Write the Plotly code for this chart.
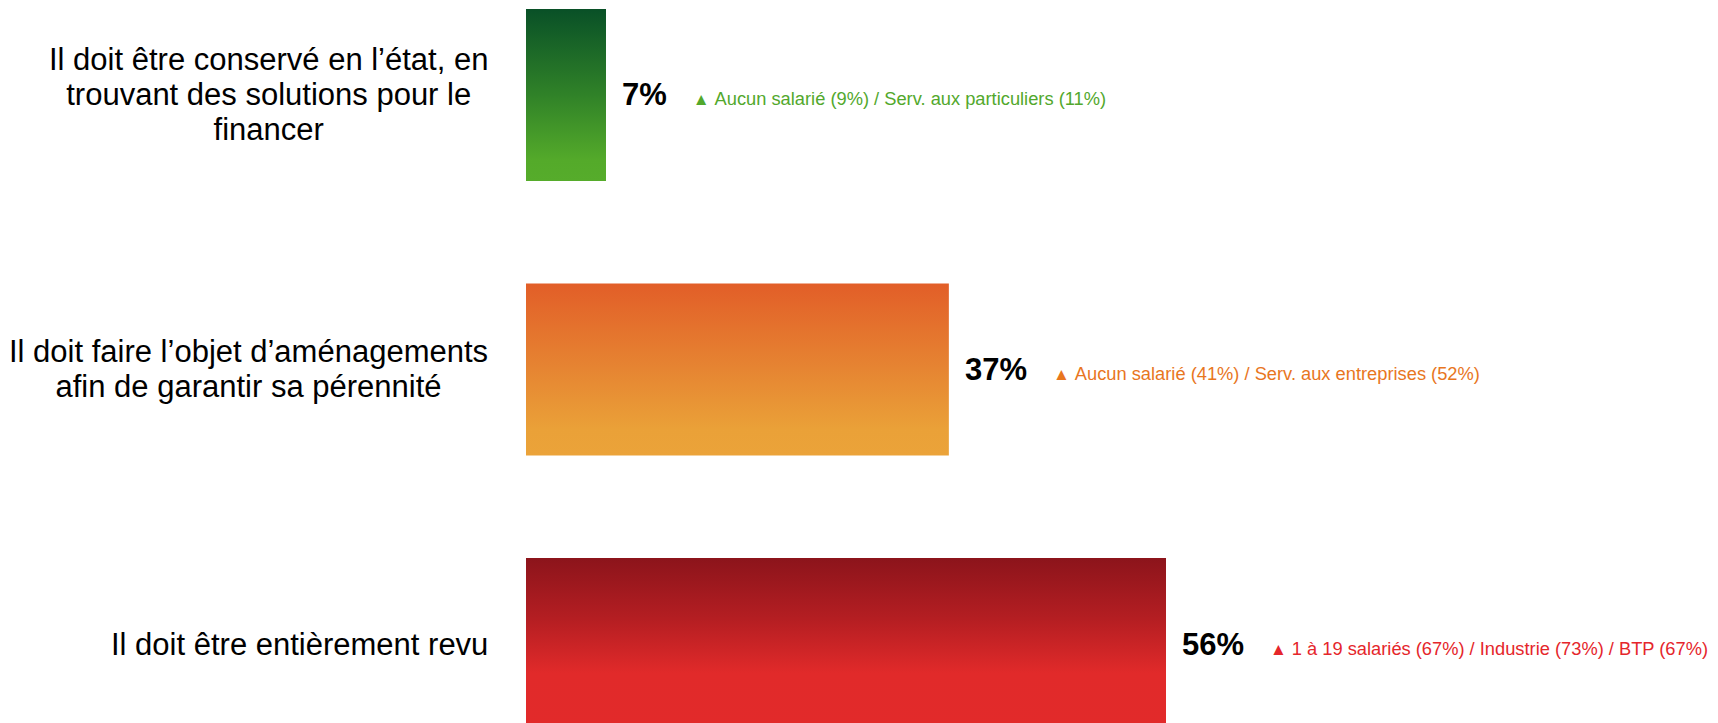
import plotly.graph_objects as go

# ---- data ----
categories = [
    "Il doit être conservé en l’état, en<br>trouvant des solutions pour le<br>financer",
    "Il doit faire l’objet d’aménagements<br>afin de garantir sa pérennité",
    "Il doit être entièrement revu",
]
values = [7, 37, 56]
value_labels = ["7%", "37%", "56%"]
detail_labels = [
    "Aucun salarié (9%) / Serv. aux particuliers (11%)",
    "Aucun salarié (41%) / Serv. aux entreprises (52%)",
    "1 à 19 salariés (67%) / Industrie (73%) / BTP (67%)",
]

# ---- styles ----
gradients = [
    [[0, "rgb(9,80,39)"], [0.5, "rgb(48,130,40)"], [0.88, "rgb(84,170,42)"], [1, "rgb(86,172,43)"]],
    [[0, "rgb(226,94,40)"], [0.5, "rgb(230,133,50)"], [0.85, "rgb(234,161,56)"], [1, "rgb(235,163,57)"]],
    [[0, "rgb(140,20,27)"], [0.35, "rgb(180,30,34)"], [0.67, "rgb(225,42,42)"], [1, "rgb(226,42,42)"]],
]
detail_colors = ["#52A82C", "#E8761E", "#E5262B"]
FONT = "Arial, Liberation Sans, sans-serif"
HALF = 0.3135
NBSP = "\u00a0"

fig = go.Figure()

for i, (v, cs) in enumerate(zip(values, gradients)):
    y0, y1 = i - HALF, i + HALF
    fig.add_trace(go.Scatter(
        x=[0, v, v, 0, 0],
        y=[y0, y0, y1, y1, y0],
        mode="lines",
        fill="toself",
        line=dict(width=0),
        fillgradient=dict(type="vertical", colorscale=cs, start=y0, stop=y1),
        hoverinfo="skip",
        showlegend=False,
    ))

annotations = []
for i, (cat, v, vl, dl, dc) in enumerate(zip(categories, values, value_labels, detail_labels, detail_colors)):
    lines = cat.split("<br>")
    label_txt = "<br>".join(f"<span style='font-size:31px'>{ln}</span>" for ln in lines)
    annotations.append(dict(
        x=0, y=i, xref="x", yref="y",
        text=label_txt, showarrow=False,
        xanchor="right", yanchor="middle", align="center",
        xshift=-36,
        font=dict(family=FONT, size=27, color="#000000"),
    ))
    txt = (f"<b>{vl}</b>" + NBSP * 3 +
           f"<span style='font-size:17px;color:{dc}'>▲</span>" +
           f"<span style='font-size:18.3px;color:{dc}'>{NBSP}{dl}</span>")
    annotations.append(dict(
        x=v, y=i, xref="x", yref="y",
        text=txt, showarrow=False,
        xanchor="left", yanchor="middle", align="left",
        xshift=14,
        font=dict(family=FONT, size=31, color="#000000"),
    ))

fig.update_layout(
    width=1710, height=715,
    margin=dict(l=518, r=0, t=0, b=0),
    paper_bgcolor="white", plot_bgcolor="white",
    xaxis=dict(range=[0, 104.3], visible=False, fixedrange=True),
    yaxis=dict(range=[2.2878, -0.3169], visible=False, fixedrange=True),
    annotations=annotations,
    showlegend=False,
)

fig.write_html("out.html")
